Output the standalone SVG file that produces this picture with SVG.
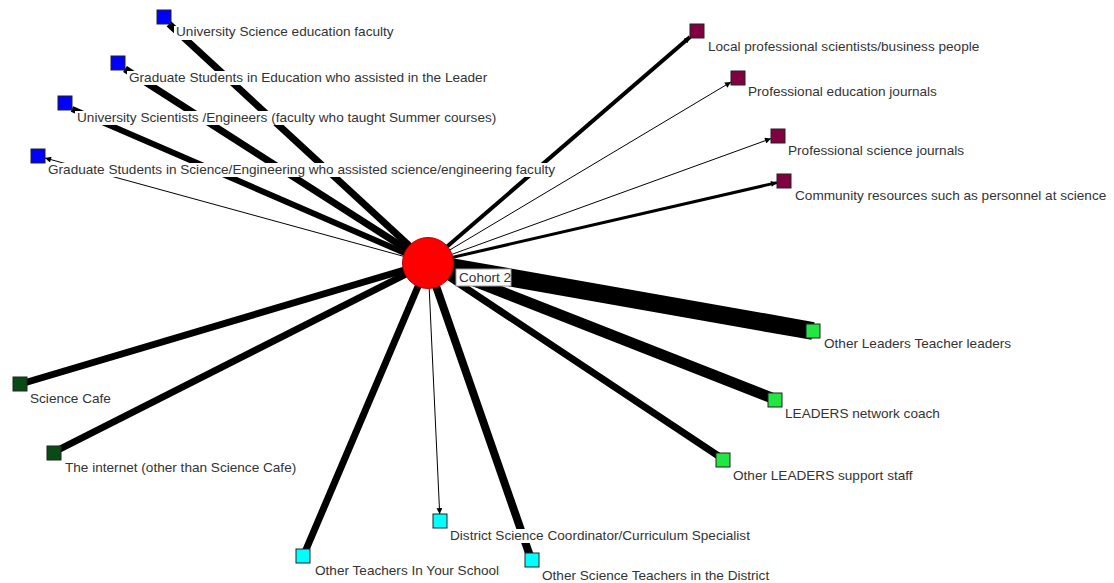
<svg xmlns="http://www.w3.org/2000/svg" width="1114" height="583" viewBox="0 0 1114 583">
  <style>
    .edge { stroke: #000; fill: none; stroke-linecap: butt; }
    .lbl { font-family: "Liberation Sans", Arial, sans-serif; font-size: 13.6px; fill: #333; }
    .bg { fill: #fff; }
    .sq { stroke: #222; stroke-width: 1; }
    .blue { fill: #0000ff; }
    .maroon { fill: #800040; }
    .green { fill: #22e644; }
    .cyan { fill: #00ffff; }
    .dkgreen { fill: #0a4a14; }
  </style>
  <defs>
    <marker id="arrow" viewBox="0 0 10 10" refX="10" refY="5" markerWidth="8" markerHeight="6" markerUnits="userSpaceOnUse" orient="auto">
      <path d="M0,0 L10,5 L0,10 z" fill="#000"/>
    </marker>
  </defs>

  <rect width="1114" height="583" fill="#fff"/>

  <!-- ties from the cohort to each resource -->
  <g id="connectors">
    <line class="edge" x1="428" y1="263" x2="169" y2="24" stroke-width="7" marker-end="url(#arrow)"/>
    <line class="edge" x1="428" y1="263" x2="125" y2="69" stroke-width="7" marker-end="url(#arrow)"/>
    <line class="edge" x1="428" y1="263" x2="72" y2="109" stroke-width="6" marker-end="url(#arrow)"/>
    <line class="edge" x1="428" y1="263" x2="45" y2="158" stroke-width="1" marker-end="url(#arrow)"/>
    <line class="edge" x1="428" y1="263" x2="690" y2="37" stroke-width="4" marker-end="url(#arrow)"/>
    <line class="edge" x1="428" y1="263" x2="731" y2="82" stroke-width="1" marker-end="url(#arrow)"/>
    <line class="edge" x1="428" y1="263" x2="771" y2="138.6" stroke-width="1" marker-end="url(#arrow)"/>
    <line class="edge" x1="428" y1="263" x2="777" y2="182.6" stroke-width="3" marker-end="url(#arrow)"/>
    <line class="edge" x1="428" y1="263" x2="813" y2="331" stroke-width="18" stroke-linecap="round"/>
    <line class="edge" x1="428" y1="263" x2="772" y2="398" stroke-width="11"/>
    <line class="edge" x1="428" y1="263" x2="720" y2="457" stroke-width="7"/>
    <line class="edge" x1="428" y1="263" x2="530" y2="556" stroke-width="8"/>
    <line class="edge" x1="428" y1="263" x2="439.7" y2="514" stroke-width="1" marker-end="url(#arrow)"/>
    <line class="edge" x1="428" y1="263" x2="305" y2="552" stroke-width="7"/>
    <line class="edge" x1="428" y1="263" x2="58" y2="450" stroke-width="7"/>
    <line class="edge" x1="428" y1="263" x2="24" y2="383" stroke-width="7"/>
  </g>

  <g id="n-cohort2">
    <circle cx="428" cy="263" r="25.5" fill="#ff0000" stroke="#b00" stroke-width="1"/>
    <rect x="456" y="269" width="55" height="17" fill="#fff" stroke="#999" stroke-width="1"/>
    <text class="lbl" x="459" y="282">Cohort 2</text>
  </g>

  <g id="n-univ-sci-ed-faculty">
    <rect class="bg" x="174" y="26" width="222" height="14"/>
    <rect class="sq blue" x="157" y="10" width="14" height="14"/>
    <text class="lbl" x="176" y="36">University Science education faculty</text>
  </g>
  <g id="n-grad-students-education">
    <rect class="bg" x="127" y="71" width="364" height="14"/>
    <rect class="sq blue" x="111" y="56" width="14" height="14"/>
    <text class="lbl" x="129" y="82">Graduate Students in Education who assisted in the Leader</text>
  </g>
  <g id="n-univ-scientists">
    <rect class="bg" x="75" y="111" width="432" height="14"/>
    <rect class="sq blue" x="58" y="96" width="14" height="14"/>
    <text class="lbl" x="77" y="122">University Scientists /Engineers (faculty who taught Summer courses)</text>
  </g>
  <g id="n-grad-students-science">
    <rect class="bg" x="46" y="163" width="510" height="14"/>
    <rect class="sq blue" x="31" y="149" width="14" height="14"/>
    <text class="lbl" x="48" y="174">Graduate Students in Science/Engineering who assisted science/engineering faculty</text>
  </g>

  <g id="n-local-professionals">
    <rect class="bg" x="706" y="40" width="274" height="14"/>
    <rect class="sq maroon" x="690" y="24" width="14" height="14"/>
    <text class="lbl" x="708" y="51">Local professional scientists/business people</text>
  </g>
  <g id="n-edu-journals">
    <rect class="bg" x="746" y="85" width="194" height="14"/>
    <rect class="sq maroon" x="731" y="71" width="14" height="14"/>
    <text class="lbl" x="748" y="96">Professional education journals</text>
  </g>
  <g id="n-sci-journals">
    <rect class="bg" x="786" y="144" width="180" height="14"/>
    <rect class="sq maroon" x="771" y="129" width="14" height="14"/>
    <text class="lbl" x="788" y="155">Professional science journals</text>
  </g>
  <g id="n-community-resources">
    <rect class="bg" x="793" y="189" width="321" height="14"/>
    <rect class="sq maroon" x="777" y="174" width="14" height="14"/>
    <text class="lbl" x="795" y="200">Community resources such as personnel at science</text>
  </g>

  <g id="n-teacher-leaders">
    <rect class="bg" x="822" y="337" width="198" height="14"/>
    <rect class="sq green" x="806" y="324" width="14" height="14"/>
    <text class="lbl" x="824" y="348">Other Leaders Teacher leaders</text>
  </g>
  <g id="n-network-coach">
    <rect class="bg" x="783" y="407" width="156" height="14"/>
    <rect class="sq green" x="768" y="393" width="14" height="14"/>
    <text class="lbl" x="785" y="418">LEADERS network coach</text>
  </g>
  <g id="n-support-staff">
    <rect class="bg" x="731" y="469" width="186" height="14"/>
    <rect class="sq green" x="716" y="453" width="14" height="14"/>
    <text class="lbl" x="733" y="480">Other LEADERS support staff</text>
  </g>

  <g id="n-district-coordinator">
    <rect class="bg" x="448" y="529" width="300" height="14"/>
    <rect class="sq cyan" x="433" y="514" width="14" height="14"/>
    <text class="lbl" x="450" y="540">District Science Coordinator/Curriculum Specialist</text>
  </g>
  <g id="n-teachers-school">
    <rect class="bg" x="313" y="564" width="199" height="14"/>
    <rect class="sq cyan" x="296" y="549" width="14" height="14"/>
    <text class="lbl" x="315" y="575">Other Teachers In Your School</text>
  </g>
  <g id="n-teachers-district">
    <rect class="bg" x="540" y="569" width="238" height="14"/>
    <rect class="sq cyan" x="525" y="553" width="14" height="14"/>
    <text class="lbl" x="542" y="580">Other Science Teachers in the District</text>
  </g>

  <g id="n-science-cafe">
    <rect class="bg" x="28" y="392" width="85" height="14"/>
    <rect class="sq dkgreen" x="13" y="377" width="14" height="14"/>
    <text class="lbl" x="30" y="403">Science Cafe</text>
  </g>
  <g id="n-internet">
    <rect class="bg" x="63" y="461" width="244" height="14"/>
    <rect class="sq dkgreen" x="47" y="446" width="14" height="14"/>
    <text class="lbl" x="65" y="472">The internet (other than Science Cafe)</text>
  </g>
</svg>
